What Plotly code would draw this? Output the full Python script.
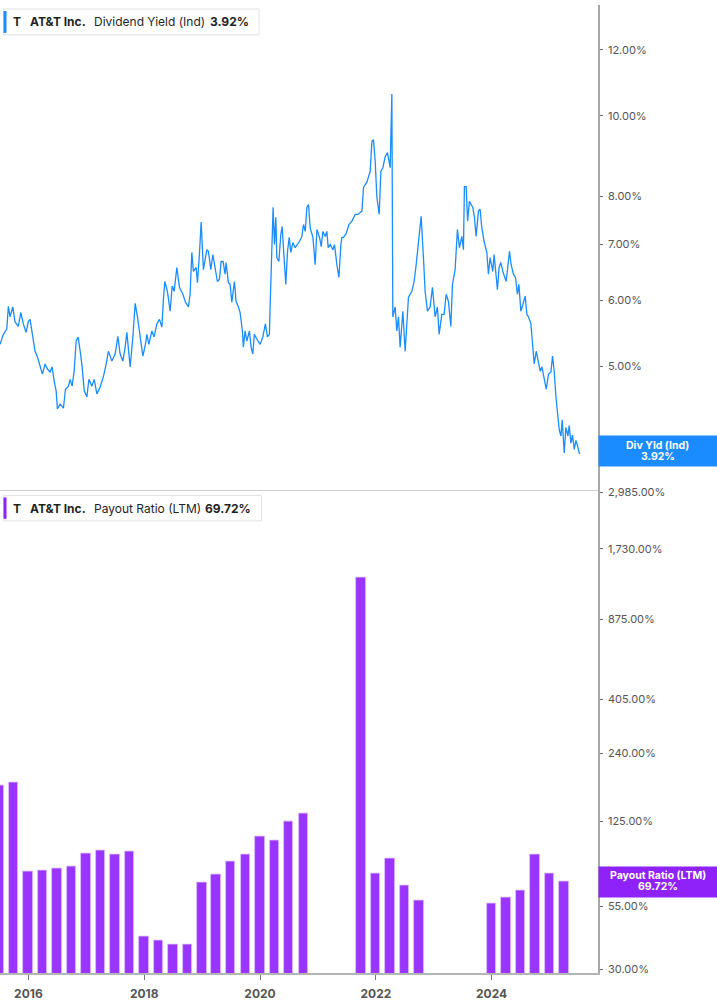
import numpy as np
import pandas as pd
import plotly.graph_objects as go

# ---------------- DATA ----------------
# Dividend Yield (Ind), % — dates as decimal years
dy_year = [
    2015.511, 2015.568, 2015.627, 2015.654, 2015.684, 2015.730, 2015.770, 2015.827, 2015.869, 2015.913,
    2015.960, 2016.000, 2016.029, 2016.058, 2016.086, 2016.115, 2016.155, 2016.202, 2016.242, 2016.288,
    2016.328, 2016.375, 2016.409, 2016.444, 2016.478, 2016.501, 2016.547, 2016.604, 2016.639, 2016.691,
    2016.720, 2016.754, 2016.789, 2016.824, 2016.858, 2016.893, 2016.927, 2016.962, 2017.008, 2017.043,
    2017.095, 2017.135, 2017.181, 2017.238, 2017.295, 2017.342, 2017.381, 2017.440, 2017.497, 2017.544,
    2017.583, 2017.630, 2017.670, 2017.699, 2017.756, 2017.803, 2017.843, 2017.882, 2017.929, 2017.976,
    2018.020, 2018.045, 2018.079, 2018.131, 2018.171, 2018.217, 2018.262, 2018.304, 2018.331, 2018.355,
    2018.400, 2018.447, 2018.482, 2018.516, 2018.563, 2018.608, 2018.667, 2018.711, 2018.763, 2018.792,
    2018.822, 2018.849, 2018.896, 2018.919, 2018.953, 2018.983, 2019.022, 2019.081, 2019.109, 2019.150,
    2019.185, 2019.224, 2019.264, 2019.299, 2019.328, 2019.362, 2019.397, 2019.414, 2019.454, 2019.483,
    2019.513, 2019.558, 2019.587, 2019.627, 2019.656, 2019.696, 2019.713, 2019.742, 2019.772, 2019.817,
    2019.846, 2019.875, 2019.903, 2019.944, 2020.002, 2020.048, 2020.093, 2020.128, 2020.162, 2020.174,
    2020.197, 2020.226, 2020.249, 2020.273, 2020.290, 2020.325, 2020.359, 2020.382, 2020.404, 2020.445,
    2020.473, 2020.503, 2020.532, 2020.566, 2020.606, 2020.646, 2020.680, 2020.722, 2020.749, 2020.779,
    2020.808, 2020.836, 2020.865, 2020.912, 2020.951, 2020.981, 2021.026, 2021.055, 2021.084, 2021.124,
    2021.153, 2021.176, 2021.210, 2021.257, 2021.285, 2021.326, 2021.361, 2021.395, 2021.413, 2021.440,
    2021.487, 2021.534, 2021.585, 2021.642, 2021.689, 2021.729, 2021.758, 2021.786, 2021.844, 2021.901,
    2021.931, 2021.958, 2021.988, 2022.017, 2022.057, 2022.086, 2022.121, 2022.160, 2022.200, 2022.247,
    2022.276, 2022.293, 2022.333, 2022.362, 2022.390, 2022.419, 2022.466, 2022.506, 2022.563, 2022.622,
    2022.661, 2022.696, 2022.736, 2022.782, 2022.822, 2022.851, 2022.891, 2022.937, 2022.977, 2023.024,
    2023.063, 2023.093, 2023.139, 2023.179, 2023.214, 2023.254, 2023.295, 2023.323, 2023.369, 2023.409,
    2023.444, 2023.485, 2023.513, 2023.530, 2023.560, 2023.585, 2023.616, 2023.675, 2023.703, 2023.732,
    2023.772, 2023.801, 2023.831, 2023.870, 2023.917, 2023.945, 2023.974, 2024.020, 2024.043, 2024.078,
    2024.100, 2024.129, 2024.159, 2024.193, 2024.216, 2024.250, 2024.280, 2024.307, 2024.337, 2024.376,
    2024.411, 2024.445, 2024.470, 2024.504, 2024.539, 2024.578, 2024.608, 2024.635, 2024.677, 2024.711,
    2024.734, 2024.769, 2024.808, 2024.837, 2024.867, 2024.906, 2024.941, 2024.981, 2025.022, 2025.050,
    2025.079, 2025.109, 2025.136, 2025.166, 2025.195, 2025.217, 2025.252, 2025.281, 2025.316, 2025.338,
    2025.368, 2025.395, 2025.425, 2025.454, 2025.482, 2025.516,
]
dy_value = [
    5.31, 5.46, 5.54, 5.90, 5.73, 5.89, 5.65, 5.58, 5.80, 5.62,
    5.49, 5.66, 5.69, 5.51, 5.31, 5.21, 5.13, 4.99, 4.89, 5.03,
    4.96, 4.92, 4.99, 4.80, 4.67, 4.44, 4.50, 4.45, 4.69, 4.73,
    4.82, 4.73, 4.93, 5.36, 5.42, 5.21, 4.99, 4.67, 4.59, 4.82,
    4.73, 4.82, 4.63, 4.72, 4.86, 5.03, 5.21, 5.07, 5.17, 5.43,
    5.17, 5.07, 5.27, 5.49, 4.99, 5.42, 5.95, 5.73, 5.42, 5.14,
    5.31, 5.46, 5.31, 5.51, 5.42, 5.62, 5.69, 5.57, 6.02, 6.32,
    6.15, 5.82, 6.24, 6.15, 6.57, 6.22, 6.10, 5.97, 5.89, 6.10,
    6.85, 6.50, 6.57, 6.30, 6.81, 7.45, 6.53, 6.90, 6.87, 6.53,
    6.81, 6.59, 6.32, 6.36, 6.68, 6.68, 6.45, 6.66, 6.30, 6.27,
    5.97, 6.32, 5.98, 5.89, 5.80, 5.51, 5.27, 5.51, 5.36, 5.51,
    5.27, 5.17, 5.46, 5.39, 5.31, 5.42, 5.62, 5.42, 5.46, 5.89,
    6.62, 7.76, 7.00, 7.55, 6.75, 6.68, 7.20, 7.36, 6.94, 6.27,
    6.85, 7.14, 6.85, 7.04, 6.94, 7.00, 7.06, 7.16, 7.40, 7.26,
    7.76, 7.82, 7.33, 7.14, 6.62, 7.30, 7.14, 6.96, 7.26, 7.16,
    7.26, 6.94, 7.00, 6.90, 7.00, 6.62, 6.39, 7.00, 7.14, 7.14,
    7.22, 7.40, 7.47, 7.61, 7.61, 7.65, 7.68, 8.20, 8.32, 8.57,
    9.31, 9.36, 8.81, 7.98, 7.61, 8.57, 8.66, 8.93, 9.03, 8.66,
    10.62, 5.73, 5.89, 5.51, 5.73, 5.27, 5.82, 5.21, 6.05, 6.15,
    6.32, 6.62, 7.00, 7.57, 6.75, 6.15, 5.82, 5.89, 6.22, 5.73,
    5.89, 5.46, 5.77, 5.77, 6.10, 5.98, 5.58, 6.27, 6.53, 7.30,
    6.94, 7.16, 6.90, 8.22, 8.22, 7.47, 7.89, 7.76, 7.55, 7.16,
    7.68, 7.72, 7.33, 7.06, 6.85, 6.45, 6.75, 6.50, 6.81, 6.39,
    6.18, 6.57, 6.66, 6.50, 6.41, 6.32, 6.59, 6.87, 6.62, 6.45,
    6.39, 6.10, 6.27, 5.82, 5.93, 6.07, 5.77, 5.73, 5.62, 5.21,
    5.03, 5.21, 5.07, 4.93, 4.99, 4.80, 4.69, 4.89, 4.92, 5.14,
    4.93, 4.59, 4.42, 4.19, 4.12, 4.31, 3.93, 4.22, 4.12, 4.24,
    4.04, 4.13, 3.97, 4.07, 4.01, 3.92,
]

# Payout Ratio (LTM), % — quarter ends
pr_dates = [
    "2015-06-30", "2015-09-30", "2015-12-31", "2016-03-31", "2016-06-30", "2016-09-30",
    "2016-12-31", "2017-03-31", "2017-06-30", "2017-09-30", "2017-12-31", "2018-03-31",
    "2018-06-30", "2018-09-30", "2018-12-31", "2019-03-31", "2019-06-30", "2019-09-30",
    "2019-12-31", "2020-03-31", "2020-06-30", "2020-09-30", "2021-09-30", "2021-12-31",
    "2022-03-31", "2022-06-30", "2022-09-30", "2023-12-31", "2024-03-31", "2024-06-30",
    "2024-09-30", "2024-12-31", "2025-03-31",
]
pr_values = [
    177.0, 182.0, 76.6, 77.4, 78.9, 80.7,
    91.1, 93.8, 90.9, 93.2, 40.9, 39.5,
    38.1, 38.0, 69.3, 74.6, 84.6, 90.6,
    107.4, 103.3, 125.0, 135.0, 1310.0, 75.1,
    86.9, 66.9, 57.9, 56.5, 59.8, 64.2,
    90.6, 75.1, 69.72,
]

dy_ticks = [4, 5, 6, 7, 8, 10, 12]
dy_ticktext = ["4.00%", "5.00%", "6.00%", "7.00%", "8.00%", "10.00%", "12.00%"]
pr_ticks = [30, 55, 125, 240, 405, 875, 1730, 2985]
pr_ticktext = ["30.00%", "55.00%", "125.00%", "240.00%", "405.00%", "875.00%", "1,730.00%", "2,985.00%"]
x_ticks = ["2016-01-01", "2018-01-01", "2020-01-01", "2022-01-01", "2024-01-01"]
x_ticktext = ["2016", "2018", "2020", "2022", "2024"]

DY_LAST = dy_value[-1]
PR_LAST = pr_values[-1]


def dec2date(y):
    yr = int(y)
    s = pd.Timestamp(year=yr, month=1, day=1)
    e = pd.Timestamp(year=yr + 1, month=1, day=1)
    return s + (e - s) * (y - yr)


dy_dates = [dec2date(v) for v in dy_year]

# ---------------- STYLE / LAYOUT ----------------
W, H = 717, 1005
PLOT_R = 598      # right edge of plot area (px)
PLOT_B = 973      # bottom of plot area (px)
SPLIT = 488       # panel split (px)
BLUE = "#1a8cff"
PURPLE_BAR = "#9a35ff"
PURPLE_TAG = "#8e22f8"
FONT = "Inter"
TXT = "#1f1f1f"
TICK = "#555555"


def px2x(px):
    return px / PLOT_R


def py2y(py):
    return (PLOT_B - py) / PLOT_B


fig = go.Figure()
fig.add_trace(go.Scatter(
    x=dy_dates, y=dy_value, mode="lines", xaxis="x2", yaxis="y2",
    line=dict(color=BLUE, width=1.3), showlegend=False, hoverinfo="skip",
))
fig.add_trace(go.Bar(
    x=pd.to_datetime(pr_dates), y=pr_values, xaxis="x", yaxis="y",
    width=60 * 86400000, marker=dict(color=PURPLE_BAR, line=dict(color="#d9bfff", width=0.8)),
    showlegend=False, hoverinfo="skip",
))

split_dom = py2y(SPLIT)
xrange_ = ["2015-07-06", "2025-11-02"]

fig.update_layout(
    width=W, height=H,
    margin=dict(l=0, r=W - PLOT_R, t=0, b=H - PLOT_B),
    paper_bgcolor="white", plot_bgcolor="white",
    font=dict(family=FONT, color=TICK),
    bargap=0,
    xaxis=dict(
        domain=[0, 1], anchor="y", type="date", range=xrange_,
        tickvals=x_ticks, ticktext=x_ticktext,
        tickfont=dict(family=FONT, size=12, color=TICK, weight="bold"),
        ticks="outside", ticklen=5, tickcolor="#777", tickwidth=1,
        showline=True, linecolor="#b5b5b5", linewidth=1.5,
        showgrid=False, zeroline=False, ticklabelstandoff=4,
    ),
    xaxis2=dict(
        domain=[0, 1], anchor="y2", type="date", matches="x", range=xrange_,
        showticklabels=False, ticks="", showline=False, showgrid=False, zeroline=False,
    ),
    yaxis=dict(
        domain=[0, split_dom], anchor="x", type="log", side="right",
        range=[1.4604, 3.4833],
        tickvals=pr_ticks, ticktext=pr_ticktext,
        tickfont=dict(family=FONT, size=11, color=TICK),
        ticks="outside", ticklen=3, tickcolor="#666", tickwidth=1,
        showline=True, linecolor="#a8a8a8", linewidth=1.5,
        showgrid=False, zeroline=False, ticklabelstandoff=3,
    ),
    yaxis2=dict(
        domain=[split_dom, 1], anchor="x2", type="log", side="right",
        range=[0.5494, 1.1332],
        tickvals=dy_ticks, ticktext=dy_ticktext,
        tickfont=dict(family=FONT, size=11, color=TICK),
        ticks="outside", ticklen=3, tickcolor="#666", tickwidth=1,
        showline=True, linecolor="#a8a8a8", linewidth=1.5,
        showgrid=False, zeroline=False, ticklabelstandoff=3,
    ),
)

shapes = []
annotations = []

# panel separator
shapes.append(dict(type="line", xref="paper", yref="paper", x0=0, x1=1, y0=split_dom, y1=split_dom,
                   line=dict(color="#cfcfcf", width=1)))


def legend_box(top, bottom, right, accent, parts):
    shapes.append(dict(type="rect", xref="paper", yref="paper",
                       x0=px2x(3.5), x1=px2x(right), y0=py2y(bottom), y1=py2y(top),
                       line=dict(color="#e3e3e3", width=1), fillcolor="white", layer="above"))
    shapes.append(dict(type="rect", xref="paper", yref="paper",
                       x0=px2x(3.5), x1=px2x(6.5), y0=py2y(bottom - 2), y1=py2y(top + 2),
                       line=dict(width=0), fillcolor=accent, layer="above"))
    cy = (top + bottom) / 2
    for xpx, txt, bold in parts:
        annotations.append(dict(
            xref="paper", yref="paper", x=px2x(xpx), y=py2y(cy), xanchor="left", yanchor="middle",
            text=f"<b>{txt}</b>" if bold else txt, showarrow=False, borderpad=0,
            font=dict(family=FONT, size=12, color=TXT),
        ))


legend_box(4, 30, 259, BLUE, [
    (11.5, "T", True), (29, "AT&amp;T Inc.", True),
    (92.5, "Dividend Yield (Ind)", False), (208.5, f"{DY_LAST:.2f}%", True),
])
legend_box(493, 518.5, 261.5, PURPLE_TAG, [
    (11.5, "T", True), (29, "AT&amp;T Inc.", True),
    (92.5, "Payout Ratio (LTM)", False), (204, f"{PR_LAST:.2f}%", True),
])


def value_tag(yref, value, color, title, shift):
    yv = np.log10(value)
    annotations.append(dict(
        xref="paper", yref=yref, x=1, y=yv, xanchor="left", yanchor="middle", yshift=shift,
        text=" ", showarrow=False, width=W - PLOT_R, height=30, bgcolor=color, borderpad=0,
    ))
    cx = px2x((PLOT_R + W) / 2)
    annotations.append(dict(
        xref="paper", yref=yref, x=cx, y=yv, xanchor="center", yanchor="middle", yshift=6 + shift,
        text=f"<b>{title}</b>", showarrow=False, font=dict(family=FONT, size=10.5, color="white"),
    ))
    annotations.append(dict(
        xref="paper", yref=yref, x=cx, y=yv, xanchor="center", yanchor="middle", yshift=-5 + shift,
        text=f"<b>{value:.2f}%</b>", showarrow=False, font=dict(family=FONT, size=10.5, color="white"),
    ))


value_tag("y2", DY_LAST, BLUE, "Div Yld (Ind)", 3)
value_tag("y", PR_LAST, PURPLE_TAG, "Payout Ratio (LTM)", 0)

fig.update_layout(shapes=shapes, annotations=annotations)
fig.write_html(
    "out.html",
    config={"displayModeBar": False},
    post_script="document.body.style.margin='0';document.body.style.overflow='hidden';",
)
